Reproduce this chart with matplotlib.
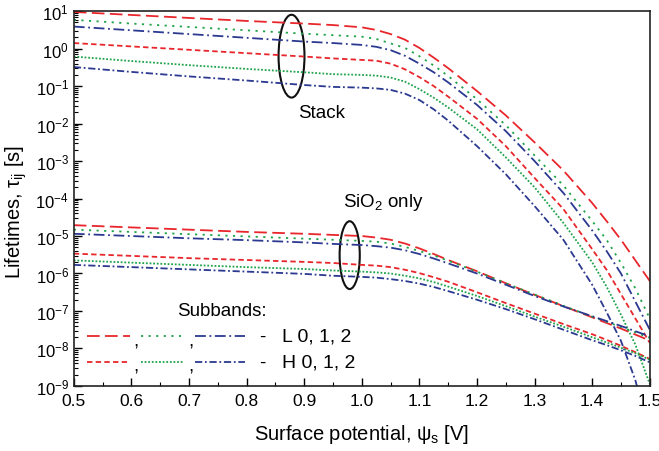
import numpy as np
import matplotlib
matplotlib.use("Agg")
import matplotlib.pyplot as plt
from matplotlib.patches import Ellipse
from matplotlib.ticker import LogLocator, MultipleLocator, NullFormatter

plt.rcParams['font.family'] = ['Liberation Sans', 'DejaVu Sans']
plt.rcParams['mathtext.fontset'] = 'custom'
plt.rcParams['mathtext.rm'] = 'Liberation Sans'
plt.rcParams['mathtext.it'] = 'Liberation Sans:italic'

# surface potential (V)
psi = [0.5, 0.6, 0.7, 0.8, 0.9, 0.95, 1.0, 1.025, 1.05, 1.075, 1.1, 1.125, 1.15,
       1.2, 1.25, 1.3, 1.35, 1.4, 1.425, 1.45, 1.475, 1.5]

# log10 of lifetimes (s), high-k stack
stack_L0 = [0.98, 0.90, 0.82, 0.74, 0.67, 0.63, 0.57, 0.50, 0.39, 0.24, 0.02, -0.24, -0.52,
            -1.13, -1.78, -2.5, -3.25, -4.12, -4.6, -5.1, -5.65, -6.2]
stack_L1 = [0.77, 0.67, 0.58, 0.49, 0.40, 0.36, 0.32, 0.26, 0.14, 0.02, -0.2, -0.45, -0.73,
            -1.35, -2.04, -2.85, -3.65, -4.6, -5.1, -5.72, -6.4, -7.2]
stack_L2 = [0.59, 0.49, 0.39, 0.29, 0.19, 0.15, 0.10, 0.05, -0.04, -0.19, -0.4, -0.63, -0.9,
            -1.5, -2.2, -3.0, -3.85, -4.85, -5.4, -6.0, -6.75, -7.5]
stack_H0 = [0.15, 0.06, -0.03, -0.12, -0.21, -0.26, -0.30, -0.32, -0.4, -0.55, -0.76, -1.0, -1.28,
            -1.87, -2.6, -3.45, -4.28, -5.35, -5.9, -6.55, -7.2, -7.85]
stack_H1 = [-0.21, -0.33, -0.44, -0.54, -0.63, -0.68, -0.70, -0.72, -0.77, -0.88, -1.08, -1.31, -1.57,
            -2.15, -2.9, -3.7, -4.65, -5.7, -6.35, -7.1, -7.9, -8.95]
stack_H2 = [-0.49, -0.62, -0.74, -0.85, -0.97, -1.02, -1.04, -1.06, -1.1, -1.2, -1.37, -1.62, -1.92,
            -2.6, -3.35, -4.2, -5.1, -6.3, -7.03, -7.8, -8.85, -10.3]

# log10 of lifetimes (s), SiO2 only
sio2_L0 = [-4.71, -4.77, -4.83, -4.89, -4.94, -4.97, -5.0, -5.04, -5.1, -5.2, -5.33, -5.48, -5.64,
           -5.94, -6.26, -6.57, -6.87, -7.17, -7.32, -7.47, -7.63, -7.79]
sio2_L1 = [-4.83, -4.89, -4.95, -5.01, -5.07, -5.1, -5.13, -5.15, -5.2, -5.29, -5.4, -5.52, -5.66,
           -5.95, -6.26, -6.56, -6.86, -7.15, -7.29, -7.43, -7.57, -7.72]
sio2_L2 = [-4.94, -5.0, -5.06, -5.11, -5.17, -5.21, -5.24, -5.27, -5.31, -5.38, -5.48, -5.6, -5.73,
           -6.0, -6.3, -6.6, -6.88, -7.14, -7.27, -7.4, -7.54, -7.68]
sio2_H0 = [-5.47, -5.53, -5.59, -5.64, -5.69, -5.72, -5.77, -5.79, -5.83, -5.9, -5.99, -6.1, -6.22,
           -6.5, -6.79, -7.07, -7.35, -7.62, -7.77, -7.93, -8.1, -8.28]
sio2_H1 = [-5.65, -5.71, -5.77, -5.83, -5.88, -5.92, -5.95, -5.97, -6.0, -6.06, -6.13, -6.23, -6.35,
           -6.6, -6.87, -7.15, -7.42, -7.7, -7.84, -7.98, -8.13, -8.3]
sio2_H2 = [-5.77, -5.83, -5.89, -5.95, -6.01, -6.06, -6.09, -6.11, -6.15, -6.2, -6.27, -6.36, -6.47,
           -6.7, -6.95, -7.22, -7.5, -7.78, -7.91, -8.05, -8.2, -8.37]

red = '#e8262b'
green = '#1fa34a'
blue = '#2b3990'
styles = {
    'L0': dict(color=red, ls=(0, (7, 3))),
    'L1': dict(color=green, ls=(0, (1.2, 3))),
    'L2': dict(color=blue, ls=(0, (6, 2, 1, 2))),
    'H0': dict(color=red, ls=(0, (3, 1.8))),
    'H1': dict(color=green, ls=(0, (1, 1))),
    'H2': dict(color=blue, ls=(0, (4, 1.5, 1, 1.5))),
}

fig = plt.figure(figsize=(6.59, 4.52), dpi=100)
ax = fig.add_axes([0.112, 0.144, 0.874, 0.829])

curves = [('L0', stack_L0), ('L1', stack_L1), ('L2', stack_L2),
          ('H0', stack_H0), ('H1', stack_H1), ('H2', stack_H2),
          ('L0', sio2_L0), ('L1', sio2_L1), ('L2', sio2_L2),
          ('H0', sio2_H0), ('H1', sio2_H1), ('H2', sio2_H2)]
for key, vals in curves:
    ax.plot(psi, 10.0 ** np.array(vals), lw=1.3, **styles[key])

ax.set_yscale('log')
ax.set_xlim(0.5, 1.5)
ax.set_ylim(1e-9, 1e1)
ax.xaxis.set_major_locator(MultipleLocator(0.1))
ax.xaxis.set_minor_locator(MultipleLocator(0.05))
ax.yaxis.set_major_locator(LogLocator(base=10, numticks=20))
ax.yaxis.set_minor_locator(LogLocator(base=10, subs=np.arange(2, 10), numticks=20))
ax.yaxis.set_minor_formatter(NullFormatter())
ax.tick_params(which='both', direction='in', top=False, right=False)
ax.tick_params(axis='x', labelsize=12.5, pad=5)
ax.tick_params(axis='y', labelsize=12)
ax.tick_params(which='major', length=6, width=1)
ax.tick_params(which='minor', length=3, width=0.8)
for s in ax.spines.values():
    s.set_linewidth(1.2)
    s.set_color('#222222')

ax.set_xlabel(r'Surface potential, ψ$_\mathrm{s}$ [V]', fontsize=14.5, labelpad=10)
ax.set_ylabel(r'Lifetimes, τ$_\mathrm{ij}$ [s]', fontsize=14.5)
ax.yaxis.set_label_coords(-0.078, 0.467)

# ellipses marking curve groups
ax.add_patch(Ellipse((0.378, 0.88), 0.045, 0.221, transform=ax.transAxes,
                     fill=False, lw=1.5, color='#111111'))
ax.add_patch(Ellipse((0.479, 0.349), 0.035, 0.181, transform=ax.transAxes,
                     fill=False, lw=1.5, color='#111111'))
ax.text(0.389, 0.731, 'Stack', transform=ax.transAxes, fontsize=13.5, va='center')
ax.text(0.467, 0.493, r'SiO$_2$ only', transform=ax.transAxes, fontsize=13.5, va='center')

# hand-made legend
ax.text(0.179, 0.2, 'Subbands:', transform=ax.transAxes, fontsize=13.5, va='center')
rows = [(0.133, ['L0', 'L1', 'L2'], 'L 0, 1, 2'), (0.064, ['H0', 'H1', 'H2'], 'H 0, 1, 2')]
segs = [(0.023, 0.097), (0.116, 0.189), (0.21, 0.297)]
for y, keys, label in rows:
    for (x0, x1), key in zip(segs, keys):
        ax.plot([x0, x1], [y, y], transform=ax.transAxes, lw=1.3, **styles[key])
    for xc in (0.104, 0.199):
        ax.text(xc, y - 0.012, ',', transform=ax.transAxes, fontsize=13.5, va='center')
    ax.text(0.322, y, '-', transform=ax.transAxes, fontsize=13.5, va='center')
    ax.text(0.361, y, label, transform=ax.transAxes, fontsize=14, va='center')

fig.savefig('out.png', dpi=100)
